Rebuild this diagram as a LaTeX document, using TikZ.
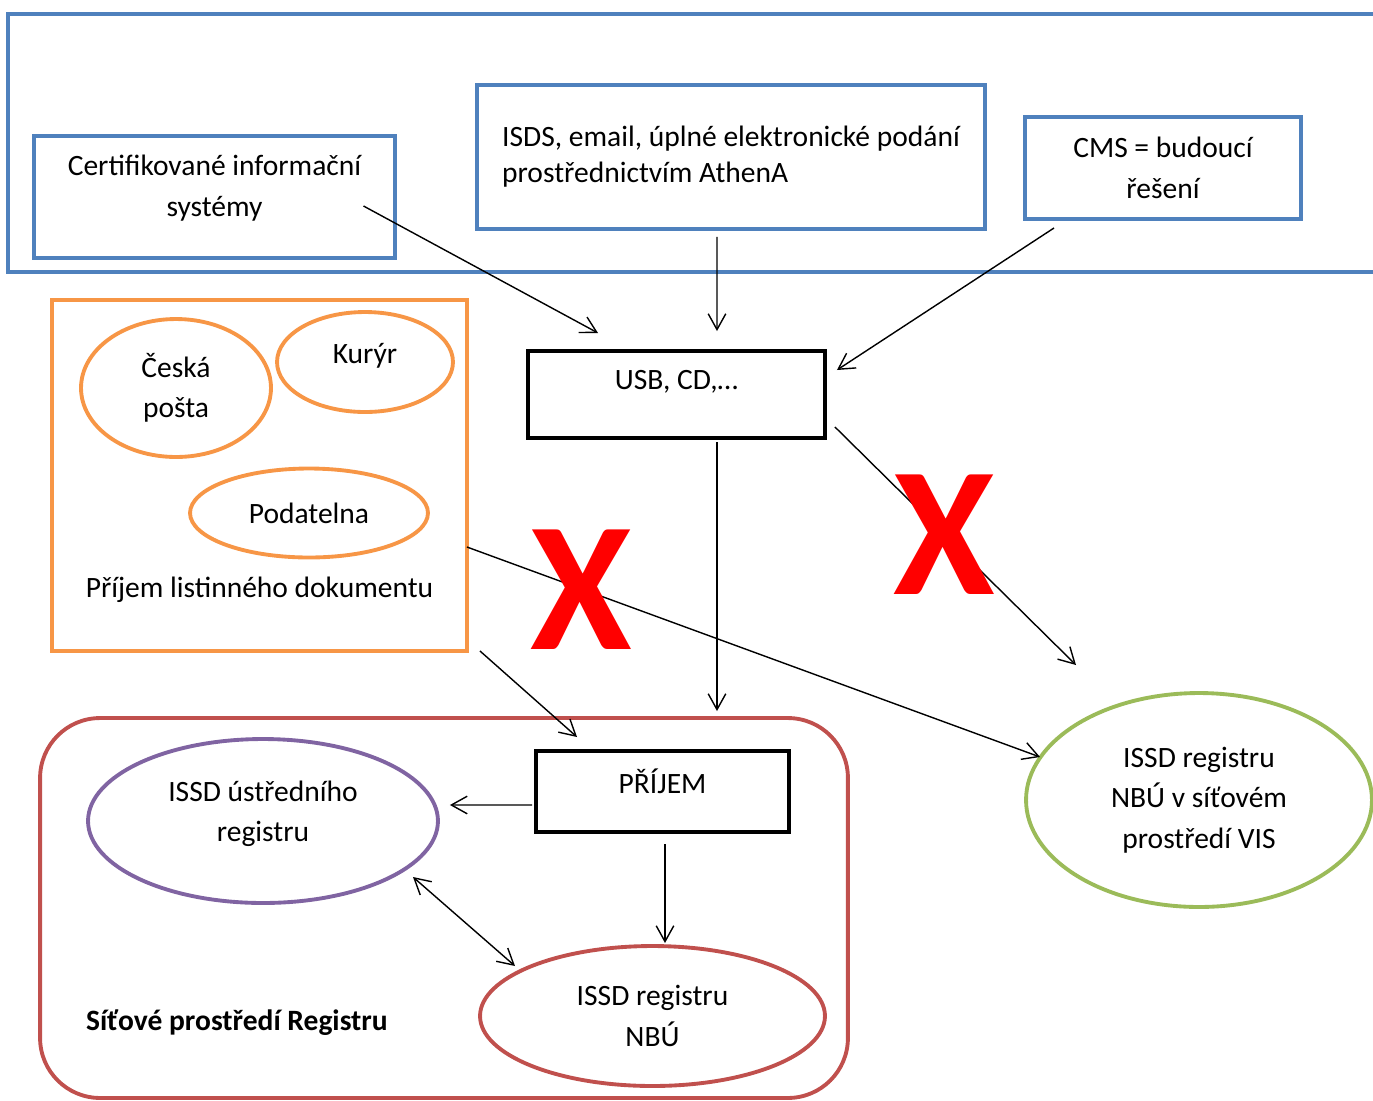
\documentclass[tikz,border=0pt]{standalone}
\usepackage{fontspec}
\setmainfont{Carlito}
\usetikzlibrary{shapes.geometric,arrows.meta,positioning,calc}

\definecolor{boxblue}{HTML}{4F81BD}
\definecolor{boxorange}{HTML}{F79646}
\definecolor{boxred}{HTML}{C0504D}
\definecolor{boxpurple}{HTML}{8064A2}
\definecolor{boxgreen}{HTML}{9BBB59}

\begin{document}
\begin{tikzpicture}[
    x=0.02cm, y=-0.02cm,
    font=\fontsize{16.8}{23}\selectfont,
    bluebox/.style={rectangle, draw=boxblue, line width=2.4pt, outer sep=0pt, inner sep=0pt, align=center},
    blackbox/.style={rectangle, draw=black, line width=2.2pt, outer sep=0pt, inner sep=0pt, align=center},
    oval/.style={ellipse, line width=2.2pt, outer sep=0pt, inner sep=0pt, align=center},
    cross/.style={text=red, inner sep=0pt, font=\fontsize{105}{105}\selectfont\bfseries},
    arrow/.style={->, line width=0.8pt, >={Straight Barb[length=9pt,width=10pt]}},
    dblarrow/.style={<->, line width=0.8pt, >={Straight Barb[length=9pt,width=10pt]}}
]
    \useasboundingbox (0,0) rectangle (1373,1100);

    % electronic sources
    \draw[boxblue, line width=2.6pt] (8,14) rectangle (1400,272);
    \node[bluebox, minimum width=7.22cm, minimum height=2.44cm,
        label={[align=center, yshift=0.18cm]center:Certifikované informační\\systémy}] (cert) at (214.5,197) {};
    \node[bluebox, minimum width=10.16cm, minimum height=2.88cm, align=left,
        font=\fontsize{16.8}{20.5}\selectfont] (isds) at (731,157) {ISDS, email, úplné elektronické podání\\prostřednictvím AthenA};
    \node[bluebox, minimum width=5.52cm, minimum height=2.04cm] (cms) at (1163,168) {CMS = budoucí\\řešení};

    % paper documents
    \node[rectangle, draw=boxorange, line width=2.2pt, outer sep=0pt, minimum width=8.30cm, minimum height=7.02cm,
        label={[yshift=-2.29cm]center:Příjem listinného dokumentu}] (paper) at (259.5,475.5) {};
    \node[oval, draw=boxorange, minimum width=3.80cm, minimum height=2.76cm] (posta) at (176,388) {Česká\\pošta};
    \node[oval, draw=boxorange, minimum width=3.52cm, minimum height=2.00cm,
        label={[yshift=0.12cm]center:Kurýr}] (kuryr) at (365,362) {};
    \node[oval, draw=boxorange, minimum width=4.76cm, minimum height=1.78cm] (podatelna) at (309,513) {Podatelna};

    \node[blackbox, minimum width=5.94cm, minimum height=1.74cm,
        label={[yshift=0.25cm]center:{USB, CD,…}}] (usb) at (676.5,394.5) {};

    % registry network
    \node[rectangle, draw=boxred, line width=2.2pt, rounded corners=1.2cm, outer sep=0pt,
        minimum width=16.16cm, minimum height=7.6cm] (register) at (444,908) {};
    \node[anchor=west, font=\fontsize{16.8}{23}\selectfont\bfseries] (reglabel) at (80,1023) {Síťové prostředí Registru};
    \node[blackbox, minimum width=5.06cm, minimum height=1.62cm,
        label={[yshift=0.21cm]center:PŘÍJEM}] (prijem) at (662.5,791.5) {};
    \node[oval, draw=boxpurple, minimum width=7.00cm, minimum height=3.28cm,
        label={[align=center, yshift=0.15cm]center:ISSD ústředního\\registru}] (central) at (263,821) {};
    \node[oval, draw=boxred, minimum width=6.90cm, minimum height=2.80cm] (nbu) at (652.5,1016) {ISSD registru\\NBÚ};

    \node[oval, draw=boxgreen, minimum width=6.92cm, minimum height=4.28cm] (vis) at (1199,800) {ISSD registru\\NBÚ v síťovém\\prostředí VIS};

    % connectors
    \draw[arrow] ($(cert.center)+(149,9)$) -- ($(usb.north west)+(70,-18)$);
    \draw[arrow] ($(isds.south)+(-14,8)$) -- ($(usb.north)+(40.5,-20)$);
    \draw[arrow] ($(cms.south)+(-109,9)$) -- ($(usb.north east)+(12,19)$);
    \draw[arrow] ($(usb.east)+(10,32.5)$) -- ($(vis.center)+(-123,-135)$);
    \draw[arrow] ($(usb.south)+(40.5,4)$) -- ($(prijem.north)+(54.5,-40)$);
    \draw[arrow] ($(paper.east)+(0,71.5)$) -- ($(vis.west)+(14,-43)$);
    \draw[arrow] ($(paper.south east)+(13,0)$) -- ($(prijem.north west)+(41,-14)$);
    \draw[arrow] ($(prijem.west)+(-4,13.5)$) -- ($(central.east)+(12,-16)$);
    \draw[arrow] ($(prijem.south)+(2.5,12)$) -- ($(nbu.north)+(12.5,-3)$);
    \draw[dblarrow] ($(central.center)+(150,56)$) -- ($(nbu.center)+(-137.5,-50)$);

    % blocked paths
    \node[cross] (xa) at (581,590) {X};
    \node[cross] (xb) at (944,535) {X};
\end{tikzpicture}
\end{document}
